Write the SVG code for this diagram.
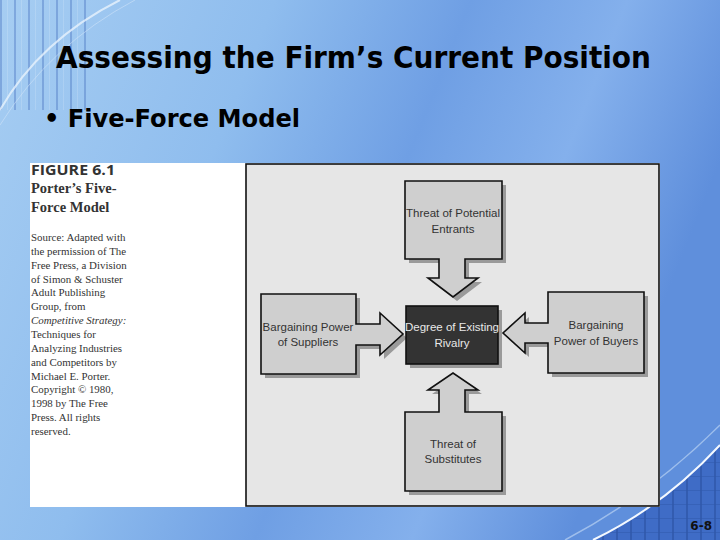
<svg xmlns="http://www.w3.org/2000/svg" width="720" height="540" viewBox="0 0 720 540">
<defs>
<linearGradient id="bg" x1="0" y1="0" x2="1" y2="0.3">
<stop offset="0" stop-color="#a6cdf2"/>
<stop offset="0.35" stop-color="#8fbdee"/>
<stop offset="0.6" stop-color="#6f9fe4"/>
<stop offset="0.8" stop-color="#84b0ec"/>
<stop offset="1" stop-color="#5f8fdc"/>
</linearGradient>
<pattern id="stripes" width="14" height="10" patternUnits="userSpaceOnUse">
<rect x="0" y="0" width="2" height="10" fill="#3a64b8" opacity="0.35"/>
<rect x="7" y="0" width="1" height="10" fill="#ffffff" opacity="0.15"/>
</pattern>
<pattern id="grid" width="14" height="14" patternUnits="userSpaceOnUse">
<rect x="0" y="0" width="14" height="14" fill="#3f6cc6"/>
<rect x="0" y="0" width="2" height="14" fill="#2f58aa" opacity="0.8"/>
<rect x="0" y="0" width="14" height="1" fill="#2f58aa" opacity="0.5"/>
</pattern>
</defs>
<style>
.title{font-family:"DejaVu Sans",Verdana,sans-serif;font-weight:bold;fill:#000}
.fig{font-family:"Liberation Serif","Times New Roman",serif;fill:#333}
.lbl{font-family:"Liberation Sans",Arial,sans-serif;font-size:11.5px;fill:#333;text-anchor:middle}
.shape{fill:#cfcfcf;stroke:#111;stroke-width:1.6}
.shadow{fill:#9a9a9a}
</style>
<rect width="720" height="540" fill="url(#bg)"/>
<rect x="0" y="0" width="90" height="110" fill="url(#stripes)"/>
<path d="M0,110 Q40,40 120,0" fill="none" stroke="#e8f2fc" stroke-width="2" opacity="0.8"/>
<path d="M0,125 Q50,45 135,0" fill="none" stroke="#cfe3f8" stroke-width="1" opacity="0.6"/>
<path d="M593,540 Q665,505 720,445 L720,540 Z" fill="url(#grid)"/>
<path d="M565,540 Q650,495 720,425" fill="none" stroke="#c8def7" stroke-width="1.5" opacity="0.6"/>
<path d="M593,540 Q665,505 720,445" fill="none" stroke="#f4f9ff" stroke-width="2"/>

<text class="title" x="56" y="68" font-size="30" textLength="595" lengthAdjust="spacingAndGlyphs">Assessing the Firm’s Current Position</text>
<text class="title" x="44" y="127" font-size="24" textLength="256" lengthAdjust="spacingAndGlyphs">• Five-Force Model</text>

<g id="figure-caption">
<rect x="30" y="163" width="630" height="344" fill="#ffffff"/>
<text x="31" y="175" font-family="'Open Sans','Liberation Sans',sans-serif" font-weight="bold" font-size="15" fill="#333" textLength="84" lengthAdjust="spacingAndGlyphs">FIGURE 6.1</text>
<text class="fig" x="31" y="193" font-size="14.5" font-weight="bold">Porter’s Five-</text>
<text class="fig" x="31" y="212" font-size="14.5" font-weight="bold">Force Model</text>
<g class="fig" font-size="10.9">
<text x="31" y="241">Source: Adapted with</text>
<text x="31" y="255">the permission of The</text>
<text x="31" y="269">Free Press, a Division</text>
<text x="31" y="283">of Simon &amp; Schuster</text>
<text x="31" y="296">Adult Publishing</text>
<text x="31" y="310">Group, from</text>
<text x="31" y="324" font-style="italic">Competitive Strategy:</text>
<text x="31" y="338">Techniques for</text>
<text x="31" y="352">Analyzing Industries</text>
<text x="31" y="366">and Competitors by</text>
<text x="31" y="380">Michael E. Porter.</text>
<text x="31" y="393">Copyright © 1980,</text>
<text x="31" y="407">1998 by The Free</text>
<text x="31" y="421">Press. All rights</text>
<text x="31" y="435">reserved.</text>
</g>
</g>

<rect x="246" y="164" width="413" height="342" fill="#e6e6e6" stroke="#111" stroke-width="1.6"/>

<g id="connectors">
</g>

<g id="threat-entrants">
<polygon class="shadow" transform="translate(4,4)" points="405,181 502,181 502,259 465,259 465,278 478,278 453,297 428,278 439,278 439,259 405,259"/>
<polygon class="shape" points="405,181 502,181 502,259 465,259 465,278 478,278 453,297 428,278 439,278 439,259 405,259"/>
<text class="lbl" x="453" y="217">Threat of Potential</text>
<text class="lbl" x="453" y="233">Entrants</text>
</g>

<g id="suppliers">
<polygon class="shadow" transform="translate(4,4)" points="261,294 356,294 356,324 380,324 380,313 403,334 380,355 380,345 356,345 356,374 261,374"/>
<polygon class="shape" points="261,294 356,294 356,324 380,324 380,313 403,334 380,355 380,345 356,345 356,374 261,374"/>
<text class="lbl" x="308" y="331">Bargaining Power</text>
<text class="lbl" x="308" y="346">of Suppliers</text>
</g>

<g id="buyers">
<polygon class="shadow" transform="translate(4,4)" points="644,292 548,292 548,323 525,323 525,313 503,333 525,353 525,343 548,343 548,373 644,373"/>
<polygon class="shape" points="644,292 548,292 548,323 525,323 525,313 503,333 525,353 525,343 548,343 548,373 644,373"/>
<text class="lbl" x="596" y="329">Bargaining</text>
<text class="lbl" x="596" y="345">Power of Buyers</text>
</g>

<g id="substitutes">
<polygon class="shadow" transform="translate(4,4)" points="405,491 502,491 502,412 465,412 465,390 478,390 453,373 428,390 439,390 439,412 405,412"/>
<polygon class="shape" points="405,491 502,491 502,412 465,412 465,390 478,390 453,373 428,390 439,390 439,412 405,412"/>
<text class="lbl" x="453" y="448">Threat of</text>
<text class="lbl" x="453" y="463">Substitutes</text>
</g>

<g id="rivalry">
<rect x="410" y="310" width="92" height="58" class="shadow"/>
<rect x="406" y="306" width="92" height="58" fill="#333" stroke="#111" stroke-width="1.6"/>
<text class="lbl" x="452" y="331" style="fill:#e8e8e8">Degree of Existing</text>
<text class="lbl" x="452" y="347" style="fill:#e8e8e8">Rivalry</text>
</g>

<text x="712" y="530" font-family="'DejaVu Sans',Verdana,sans-serif" font-weight="bold" font-size="12" fill="#111" text-anchor="end">6-8</text>
</svg>
